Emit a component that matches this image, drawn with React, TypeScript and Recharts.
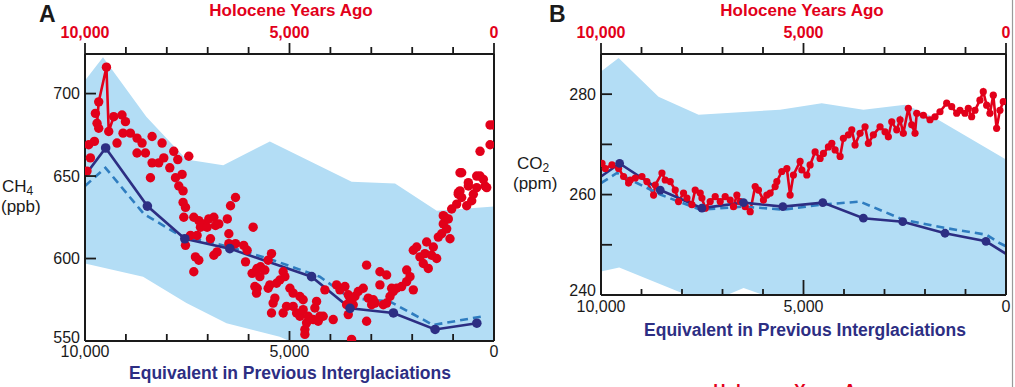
import React from "react"
import { ComposedChart, XAxis, YAxis, Area, Line, Scatter, ReferenceLine } from "recharts"

const RED = "#e2001a"
const NAVY = "#2d2e83"
const DASH = "#2f7dc0"
const BAND = "#b3ddf5"
const INK = "#1a1a1a"
const FONT = "'Liberation Sans', Arial, Helvetica, sans-serif"

type P = [number, number]

// shared x axis (years ago)
const yearTicks = [0, 1000, 2000, 3000, 4000, 5000, 6000, 7000, 8000, 9000, 10000]
const yearLabels: Record<number, string> = { 10000: "10,000", 5000: "5,000", 0: "0" }

// panel A, CH4
const ch4Ticks = [550, 600, 650, 700]
const ch4Labels: Record<number, string> = { 550: "550", 600: "600", 650: "650", 700: "700" }
const ch4BandTop: P[] = [[10000, 708], [9560, 722], [8500, 686], [7520, 660], [6620, 656.5], [5480, 671], [3480, 646.5], [2420, 645.5], [1400, 629], [0, 631.5]]
const ch4BandBottom: P[] = [[10000, 597], [8580, 589], [7520, 573], [6540, 560.7], [5240, 552.6], [5000, 550], [0, 550]]
const ch4Model: P[] = [[10000, 650.4], [9495, 667], [8475, 631.8], [7560, 612], [6460, 606], [4460, 589], [3520, 569.8], [2460, 567], [1440, 557], [420, 560.8]]
const ch4Dashed: P[] = [[10000, 644], [9500, 655], [8560, 627], [7680, 614], [6460, 607], [5400, 599], [4260, 589], [3520, 576], [2550, 574], [1490, 559.7], [260, 565]]
const ch4Spike: P[] = [[9706, 682], [9665, 695], [9476, 716], [9420, 677], [9298, 686]]
const ch4Holocene: P[] = [
  [9951, 653], [9909, 669], [9868, 661], [9770, 671], [9746, 688], [9706, 682], [9665, 695], [9665, 679], [9476, 716], [9420, 677],
  [9298, 686], [9217, 670], [9095, 687], [9070, 676], [9011, 683], [8890, 676], [8728, 673], [8728, 664], [8605, 670], [8522, 664],
  [8400, 649], [8360, 674], [8360, 658], [8197, 658], [8116, 670], [8074, 661], [7927, 655], [7830, 665], [7788, 649], [7732, 660],
  [7707, 644], [7626, 651], [7602, 641], [7602, 634], [7585, 625], [7543, 631], [7543, 608], [7462, 662], [7421, 614], [7340, 625],
  [7340, 592], [7300, 601], [7259, 614], [7218, 623], [7218, 599], [7177, 619], [7095, 621], [7014, 619], [6973, 624], [6932, 612],
  [6850, 625], [6850, 602], [6810, 620], [6770, 604], [6728, 621], [6520, 624], [6483, 615], [6483, 609], [6442, 632], [6442, 607],
  [6320, 637], [6320, 609], [6120, 608], [6075, 598], [6036, 605], [5914, 591], [5889, 619], [5847, 583], [5806, 593], [5806, 579],
  [5790, 594], [5790, 582], [5725, 589], [5708, 595], [5603, 593], [5522, 599], [5522, 582], [5480, 584], [5440, 603], [5440, 567],
  [5400, 573], [5358, 576], [5317, 585], [5236, 587], [5155, 592], [5155, 567], [5113, 589], [5072, 571], [4990, 582], [4910, 579],
  [4910, 571], [4827, 567], [4746, 577], [4746, 565], [4666, 575], [4666, 569], [4624, 557], [4624, 554], [4583, 561], [4543, 565],
  [4420, 563], [4380, 570], [4338, 574], [4298, 562], [4257, 565], [4176, 565], [4135, 581], [3931, 563], [3849, 584], [3767, 581],
  [3645, 583], [3604, 572], [3563, 578], [3563, 566], [3523, 574], [3482, 551], [3442, 572], [3400, 577], [3319, 580], [3197, 582],
  [3115, 596], [3115, 562], [3075, 576], [2992, 572], [2952, 575], [2910, 573], [2789, 592], [2789, 584], [2707, 572], [2625, 590],
  [2625, 573], [2544, 577], [2503, 582], [2462, 580], [2380, 582], [2258, 583], [2135, 586], [2135, 593], [2054, 589], [1973, 581],
  [1973, 605], [1891, 607], [1810, 601], [1729, 597], [1688, 603], [1647, 610], [1607, 594], [1525, 602], [1484, 607], [1402, 600],
  [1362, 613], [1280, 615], [1240, 621], [1240, 626], [1199, 625], [1157, 618], [1117, 624], [1076, 612], [1035, 630], [912, 633],
  [873, 639], [872, 640], [831, 641], [831, 652], [790, 637], [790, 652], [668, 632], [627, 644], [627, 646], [545, 635],
  [505, 639], [423, 643], [423, 650], [342, 650], [341, 665], [260, 648], [219, 644], [178, 643], [96, 681], [96, 669], [16, 681],
]

// panel B, CO2
const co2Ticks = [240, 250, 260, 270, 280]
const co2Labels: Record<number, string> = { 240: "240", 260: "260", 280: "280" }
const co2BandTop: P[] = [[10000, 284.5], [9565, 287.2], [8580, 279.5], [7590, 275.9], [5580, 276.9], [4550, 278.2], [3520, 276.9], [2490, 277.9], [1800, 275.5], [0, 267]]
const co2BandBottom: P[] = [[10000, 244.7], [9550, 245.5], [7880, 240], [6890, 240], [6480, 241.4], [5990, 240], [0, 240]]
const co2Model: P[] = [[10000, 263.6], [9540, 266.2], [8537, 260.9], [7508, 257.3], [6482, 258.4], [5510, 257.6], [4524, 258.4], [3521, 255.3], [2549, 254.6], [1506, 252.3], [495, 250.7], [0, 248.2]]
const co2Dashed: P[] = [[10000, 262.3], [9605, 264.3], [8537, 260], [7550, 257], [6482, 257.6], [5495, 257], [4548, 258], [3604, 258.6], [2535, 255], [1464, 253.3], [478, 252], [150, 250.3], [0, 249.7]]
const co2Holocene: P[] = [
  [9975, 266.2], [9894, 265.2], [9729, 265.9], [9566, 265.2], [9442, 263.6], [9319, 262.3], [9277, 262.9], [9154, 263.3], [8989, 263.6], [8866, 262.6],
  [8702, 259.9], [8660, 261.9], [8495, 264.3], [8414, 262.9], [8290, 262.6], [8167, 260.9], [8085, 258.6], [7962, 260.3], [7878, 259.3], [7755, 258],
  [7674, 260.9], [7550, 260.3], [7508, 259.3], [7427, 257.3], [7304, 258.6], [7180, 259.6], [7057, 258.6], [6934, 259.6], [6810, 258.9], [6729, 257.6],
  [6645, 259.9], [6563, 258.6], [6440, 257.6], [6317, 256.6], [6193, 261.6], [6112, 260.9], [5989, 258.9], [5905, 259.9], [5824, 260.3], [5700, 261.6],
  [5658, 262.6], [5535, 264.6], [5411, 265.2], [5330, 259.9], [5249, 263.9], [5084, 266.6], [5041, 264.9], [4918, 263.9], [4837, 265.9], [4713, 268.5],
  [4590, 267.2], [4508, 268.2], [4385, 269.5], [4301, 270.2], [4220, 268.9], [4096, 267.6], [4015, 271.2], [3892, 271.9], [3808, 272.9], [3727, 269.9],
  [3603, 272.2], [3480, 273.5], [3398, 270.2], [3275, 271.9], [3110, 273.5], [2987, 272.5], [2905, 271.5], [2821, 274.5], [2698, 272.9], [2616, 274.9],
  [2535, 272.2], [2412, 277.2], [2328, 273.9], [2246, 272.2], [2204, 276.2], [2040, 275.8], [1876, 274.9], [1753, 275.5], [1630, 276.5], [1464, 278.2],
  [1341, 277.5], [1218, 276.2], [1136, 276.8], [1013, 276.2], [931, 277.2], [848, 275.5], [766, 276.8], [643, 278.8], [561, 280.5], [478, 277.8],
  [397, 276.2], [314, 279.8], [232, 273.2], [150, 276.8], [68, 278.5],
]

const pts = (a: P[]) => a.map(([yr, v]) => ({ yr, v }))

const TopTick = (props: any) => {
  const { x, y, payload } = props
  const v = payload.value
  const major = v % 5000 === 0
  return (
    <g>
      <line x1={x} x2={x} y1={y} y2={y - (major ? 11 : 7)} stroke={INK} strokeWidth={1.8} />
      {yearLabels[v] && (
        <text x={x} y={y - 16} textAnchor="middle" fill={RED} fontWeight="bold" fontSize={16} fontFamily={FONT}>
          {yearLabels[v]}
        </text>
      )}
    </g>
  )
}

const makeBottomTick = (minor: number, major: number, gap: number) => (props: any) => {
  const { x, y, payload } = props
  const v = payload.value
  const edge = v === 0 || v === 10000
  return (
    <g>
      {!edge && <line x1={x} x2={x} y1={y} y2={y - (v === 5000 ? major : minor)} stroke={INK} strokeWidth={1.8} />}
      {yearLabels[v] && (
        <text x={x} y={y + gap} textAnchor="middle" fill={INK} fontSize={16} fontFamily={FONT}>
          {yearLabels[v]}
        </text>
      )}
    </g>
  )
}

const makeYTick = (labels: Record<number, string>, min: number, lift: number) => (props: any) => {
  const { x, y, payload } = props
  const v = payload.value
  return (
    <g>
      {v !== min && <line x1={x} x2={x + 11} y1={y} y2={y} stroke={INK} strokeWidth={1.8} />}
      {labels[v] && (
        <text x={x - 5} y={y + 5.7 - (v === min ? lift : 0)} textAnchor="end" fill={INK} fontSize={16} fontFamily={FONT}>
          {labels[v]}
        </text>
      )}
    </g>
  )
}

interface PanelProps {
  left: number
  width: number
  right: number
  yWidth: number
  bottomH: number
  yDomain: [number, number]
  yTicks: number[]
  yLabels: Record<number, string>
  yLift: number
  bandTop: P[]
  bandBottom: P[]
  holocene: P[]
  spike?: P[]
  connect: boolean
  holoR: number
  model: P[]
  modelR: number
  skipLast: boolean
  dashed: P[]
  tickMinor: number
  tickMajor: number
  labelGap: number
}

const Panel = (p: PanelProps) => {
  const modelDot = (d: any) => {
    const skip = d.index === 0 || (p.skipLast && d.index === p.model.length - 1)
    if (skip) return <g key={d.key} />
    return <circle key={d.key} cx={d.cx} cy={d.cy} r={p.modelR} fill={NAVY} />
  }
  return (
    <div style={{ position: "absolute", left: p.left, top: 0 }}>
      <ComposedChart width={p.width} height={387} margin={{ top: 0, right: p.right, bottom: 0, left: 0 }}>
        <Area data={pts(p.bandTop)} xAxisId="top" yAxisId="y" dataKey="v" type="linear" stroke="none" fill={BAND} fillOpacity={1} baseValue="dataMin" isAnimationActive={false} />
        <Area data={pts(p.bandBottom)} xAxisId="top" yAxisId="y" dataKey="v" type="linear" stroke="none" fill="#ffffff" fillOpacity={1} baseValue="dataMin" isAnimationActive={false} />
        {p.connect ? (
          <Line data={pts(p.holocene)} xAxisId="bottom" yAxisId="y" dataKey="v" type="linear" stroke={RED} strokeWidth={2.6}
            dot={{ r: p.holoR, fill: RED, stroke: RED, strokeWidth: 0 }} activeDot={false} isAnimationActive={false} />
        ) : (
          <Scatter data={pts(p.holocene)} xAxisId="bottom" yAxisId="y" dataKey="v" isAnimationActive={false}
            shape={(d: any) => <circle cx={d.cx} cy={d.cy} r={p.holoR} fill={RED} />} />
        )}
        {p.spike && (
          <Line data={pts(p.spike)} xAxisId="bottom" yAxisId="y" dataKey="v" type="linear" stroke={RED} strokeWidth={2.6} dot={false} activeDot={false} isAnimationActive={false} />
        )}
        <Line data={pts(p.dashed)} xAxisId="bottom" yAxisId="y" dataKey="v" type="linear" stroke={DASH} strokeWidth={2.6} strokeDasharray="8 5" dot={false} activeDot={false} isAnimationActive={false} />
        <Line data={pts(p.model)} xAxisId="bottom" yAxisId="y" dataKey="v" type="linear" stroke={NAVY} strokeWidth={2.6} dot={modelDot} activeDot={false} isAnimationActive={false} />
        <ReferenceLine x={0} xAxisId="bottom" yAxisId="y" stroke={INK} strokeWidth={2} />
        <XAxis xAxisId="top" orientation="top" type="number" dataKey="yr" domain={[0, 10000]} reversed allowDataOverflow
          ticks={yearTicks} interval={0} height={54} tickSize={0} tickMargin={0} tickLine={false}
          axisLine={{ stroke: INK, strokeWidth: 2 }} tick={TopTick} />
        <XAxis xAxisId="bottom" orientation="bottom" type="number" dataKey="yr" domain={[0, 10000]} reversed allowDataOverflow
          ticks={yearTicks} interval={0} height={p.bottomH} tickSize={0} tickMargin={0} tickLine={false}
          axisLine={{ stroke: INK, strokeWidth: 2 }} tick={makeBottomTick(p.tickMinor, p.tickMajor, p.labelGap)} />
        <YAxis yAxisId="y" type="number" dataKey="v" domain={p.yDomain} allowDataOverflow ticks={p.yTicks} interval={0}
          width={p.yWidth} tickSize={0} tickMargin={0} tickLine={false}
          axisLine={{ stroke: INK, strokeWidth: 2 }} tick={makeYTick(p.yLabels, p.yDomain[0], p.yLift)} />
      </ComposedChart>
    </div>
  )
}

export default function App() {
  return (
    <div style={{ position: "absolute", left: 0, top: 0, width: 1015, height: 387, overflow: "hidden", background: "#fff", fontFamily: FONT }}>
      <Panel left={0} width={505} right={11} yWidth={85} bottomH={46}
        yDomain={[550, 724]} yTicks={ch4Ticks} yLabels={ch4Labels} yLift={3.5}
        bandTop={ch4BandTop} bandBottom={ch4BandBottom} holocene={ch4Holocene} spike={ch4Spike} connect={false} holoR={4.7}
        model={ch4Model} modelR={4.8} skipLast={false} dashed={ch4Dashed}
        tickMinor={7} tickMajor={10} labelGap={16} />
      <Panel left={515} width={500} right={9} yWidth={86} bottomH={92}
        yDomain={[240, 288]} yTicks={co2Ticks} yLabels={co2Labels} yLift={5}
        bandTop={co2BandTop} bandBottom={co2BandBottom} holocene={co2Holocene} connect={true} holoR={3.6}
        model={co2Model} modelR={4.4} skipLast={true} dashed={co2Dashed}
        tickMinor={6} tickMajor={15} labelGap={17} />
      <svg width={1015} height={387} style={{ position: "absolute", left: 0, top: 0, pointerEvents: "none" }} fontFamily={FONT}>
        <text x={39} y={22} fontSize={23} fontWeight="bold" fill={INK}>A</text>
        <text x={549} y={22} fontSize={23} fontWeight="bold" fill={INK}>B</text>
        <text x={291} y={15.5} textAnchor="middle" fontSize={17} fontWeight="bold" fill={RED}>Holocene Years Ago</text>
        <text x={802} y={15.5} textAnchor="middle" fontSize={17} fontWeight="bold" fill={RED}>Holocene Years Ago</text>
        <text x={2} y={192} fontSize={17} fill={INK}>CH<tspan fontSize={12} dy={3}>4</tspan></text>
        <text x={1} y={212} fontSize={17} fill={INK}>(ppb)</text>
        <text x={517} y={169} fontSize={17} fill={INK}>CO<tspan fontSize={12} dy={3}>2</tspan></text>
        <text x={513} y={189} fontSize={17} fill={INK}>(ppm)</text>
        <text x={290} y={379} textAnchor="middle" fontSize={17.5} fontWeight="bold" fill={NAVY}>Equivalent in Previous Interglaciations</text>
        <text x={805} y={336} textAnchor="middle" fontSize={17.5} fontWeight="bold" fill={NAVY}>Equivalent in Previous Interglaciations</text>
        <text x={795} y={396} textAnchor="middle" fontSize={17} fontWeight="bold" fill={RED}>Holocene Years Ago</text>
        <line x1={1012.5} x2={1012.5} y1={0} y2={387} stroke="#9a9a9a" strokeWidth={1.2} />
      </svg>
    </div>
  )
}
